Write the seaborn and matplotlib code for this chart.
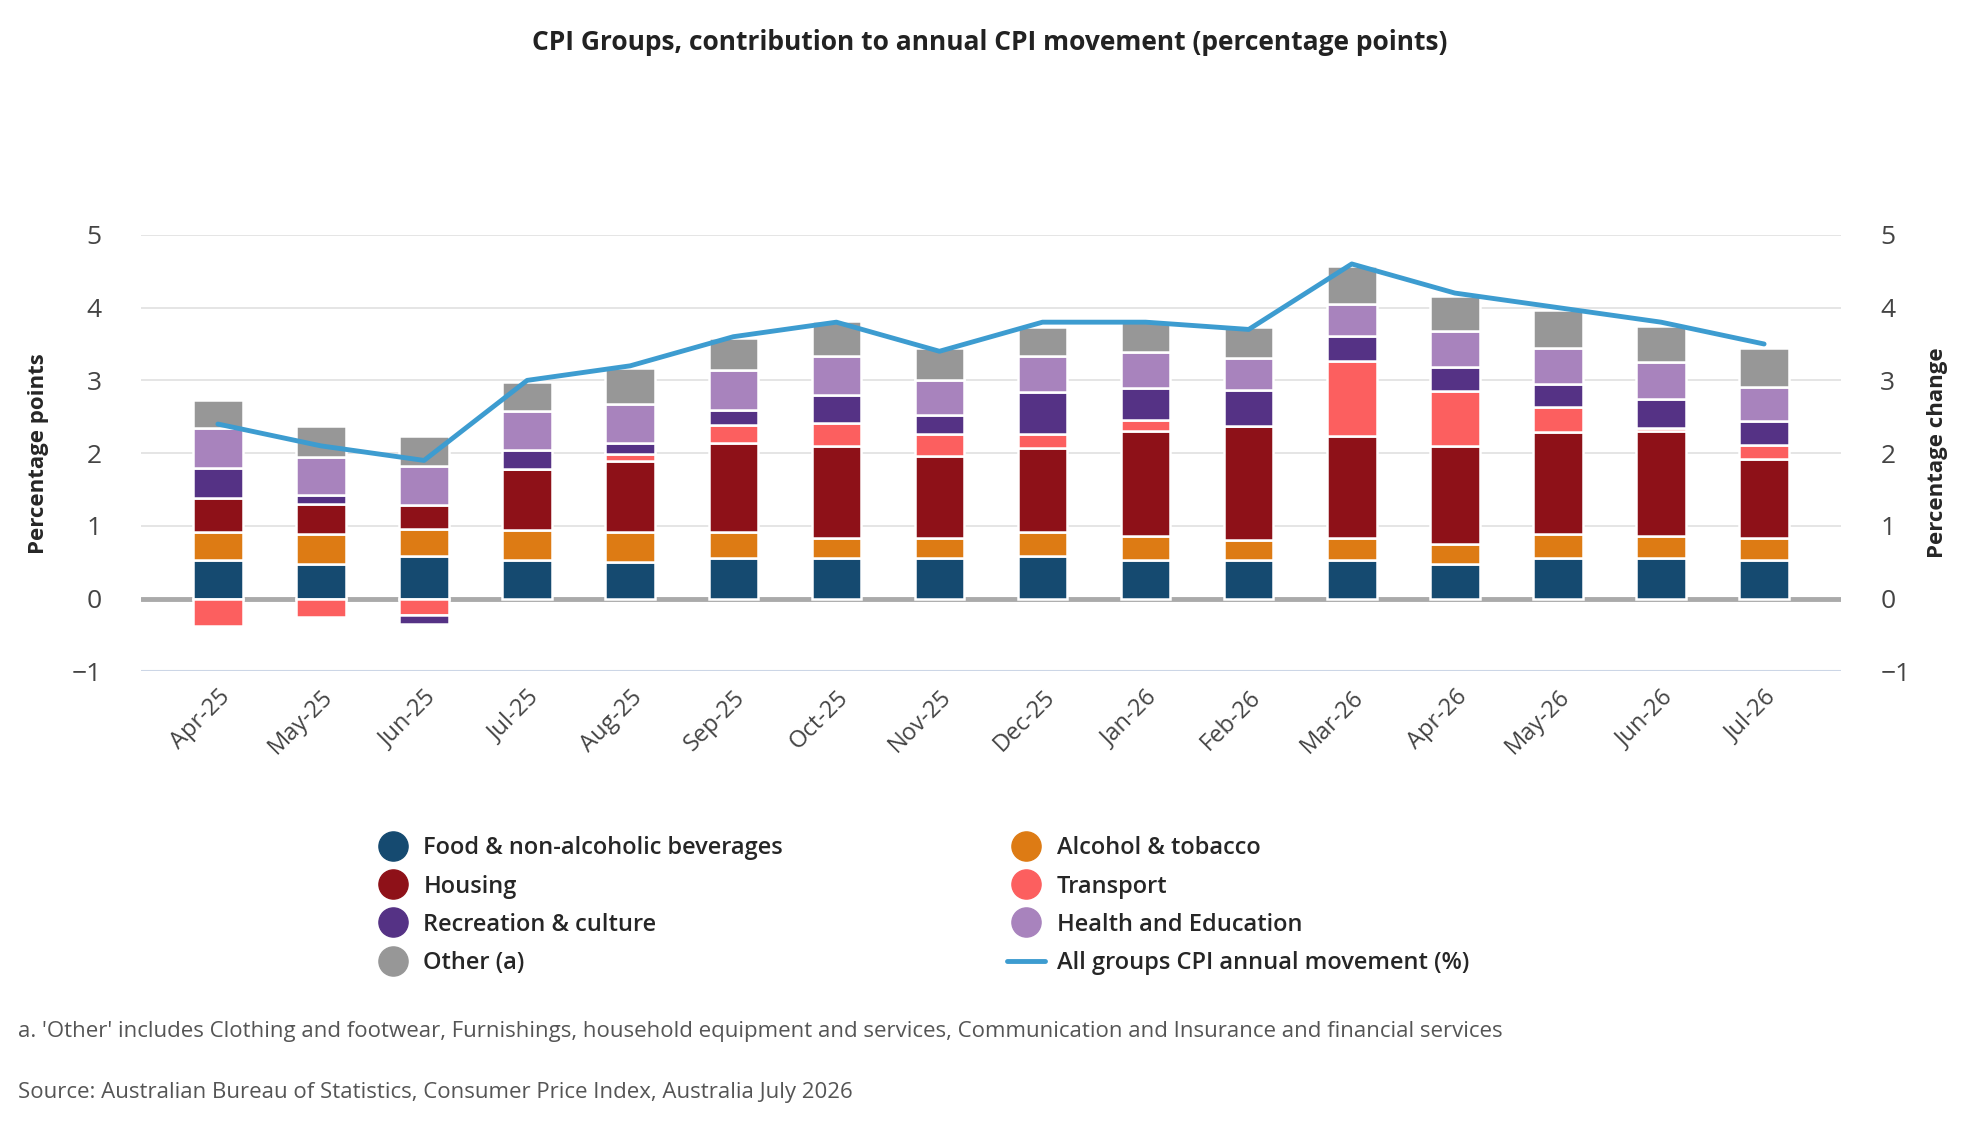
import numpy as np
import pandas as pd
import seaborn as sns
import matplotlib.pyplot as plt
from matplotlib.lines import Line2D

# ---------------------------------------------------------
# DATA (percentage point contributions)
# ---------------------------------------------------------
months = ["Apr-25", "May-25", "Jun-25", "Jul-25", "Aug-25", "Sep-25", "Oct-25", "Nov-25",
          "Dec-25", "Jan-26", "Feb-26", "Mar-26", "Apr-26", "May-26", "Jun-26", "Jul-26"]
food = [0.53, 0.47, 0.58, 0.53, 0.50, 0.56, 0.56, 0.56, 0.59, 0.53, 0.53, 0.53, 0.47, 0.56, 0.56, 0.53]
alcohol = [0.38, 0.42, 0.38, 0.42, 0.42, 0.36, 0.27, 0.27, 0.33, 0.33, 0.27, 0.30, 0.28, 0.33, 0.30, 0.30]
housing = [0.47, 0.41, 0.33, 0.83, 0.97, 1.22, 1.27, 1.13, 1.15, 1.45, 1.57, 1.40, 1.35, 1.40, 1.45, 1.09]
transport = [-0.37, -0.25, -0.22, 0.00, 0.10, 0.24, 0.31, 0.31, 0.19, 0.14, 0.00, 1.03, 0.75, 0.35, 0.04, 0.19]
recreation = [0.42, 0.13, -0.13, 0.27, 0.15, 0.21, 0.39, 0.25, 0.58, 0.45, 0.50, 0.35, 0.33, 0.31, 0.40, 0.33]
health_edu = [0.55, 0.52, 0.53, 0.53, 0.53, 0.55, 0.53, 0.49, 0.49, 0.49, 0.44, 0.44, 0.50, 0.50, 0.50, 0.47]
other = [0.38, 0.42, 0.42, 0.40, 0.50, 0.44, 0.49, 0.43, 0.40, 0.42, 0.43, 0.52, 0.48, 0.52, 0.50, 0.53]
all_groups = [2.4, 2.1, 1.9, 3.0, 3.2, 3.6, 3.8, 3.4, 3.8, 3.8, 3.7, 4.6, 4.2, 4.0, 3.8, 3.5]

series = [
    ("Food & non-alcoholic beverages", food, "#154a70"),
    ("Alcohol & tobacco", alcohol, "#dd7b14"),
    ("Housing", housing, "#8e1118"),
    ("Transport", transport, "#fc5f5f"),
    ("Recreation & culture", recreation, "#553285"),
    ("Health and Education", health_edu, "#a883bd"),
    ("Other (a)", other, "#979797"),
]
line_color = "#3d9cd0"

sns.set_theme(style="white")
plt.rcParams['font.family'] = ['Open Sans', 'DejaVu Sans']

fig = plt.figure(figsize=(19.8, 11.4), dpi=100)
ax = fig.add_axes([0.071, 0.411, 0.859, 0.383])
x = np.arange(len(months))

# stacked bars, positives up and negatives down
pos_base = np.zeros(len(months))
neg_base = np.zeros(len(months))
for name, vals, col in series:
    v = np.array(vals)
    bottom = np.where(v >= 0, pos_base, neg_base)
    ax.bar(x, v, bottom=bottom, width=0.48, color=col, edgecolor="white", linewidth=1.8, zorder=3)
    pos_base += np.where(v >= 0, v, 0)
    neg_base += np.where(v < 0, v, 0)

ax.set_ylim(-1, 5)
ax.set_xlim(-0.75, len(months) - 0.25)
ax.set_yticks(range(-1, 6))
ax.yaxis.grid(True, color="#e3e3e3", linewidth=1.3, zorder=0)
ax.axhline(0, color="#aaaaaa", linewidth=3.5, zorder=2)
ax.axhline(-1, color="#ccd6e6", linewidth=1.5, zorder=2)
for s in ax.spines.values():
    s.set_visible(False)
ax.set_xticks(x)
ax.set_xticklabels(months, rotation=45, ha="right", rotation_mode="anchor", fontsize=17, color="#444444")
ax.tick_params(axis="y", labelsize=19, labelcolor="#444444", length=0, pad=28)
ax.tick_params(axis="x", length=0, pad=10)
ax.set_ylabel("Percentage points", fontsize=16, fontweight="bold", labelpad=16)

ax2 = ax.twinx()
line_df = pd.DataFrame({"x": x, "y": all_groups})
sns.lineplot(data=line_df, x="x", y="y", ax=ax2, color=line_color, linewidth=3.5, zorder=5)
ax2.set_ylim(-1, 5)
ax2.set_yticks(range(-1, 6))
for s in ax2.spines.values():
    s.set_visible(False)
ax2.tick_params(axis="y", labelsize=19, labelcolor="#444444", length=0, pad=28)
ax2.set_ylabel("Percentage change", fontsize=16, fontweight="bold", labelpad=12)
ax2.set_xlabel("")

fig.suptitle("CPI Groups, contribution to annual CPI movement (percentage points)",
             fontsize=19, fontweight="bold", y=0.975, color="#222222")

# legend (column-first order so rows read like reference)
handles = {name: Line2D([], [], marker="o", linestyle="", markersize=21, color=col)
           for name, _, col in series}
handles["All groups CPI annual movement (%)"] = Line2D([], [], color=line_color, linewidth=3.5)
order = ["Food & non-alcoholic beverages", "Housing", "Recreation & culture", "Other (a)",
         "Alcohol & tobacco", "Transport", "Health and Education", "All groups CPI annual movement (%)"]
leg = fig.legend([handles[k] for k in order], order, loc="upper left", bbox_to_anchor=(0.178, 0.285),
                 ncol=2, frameon=False, fontsize=17, columnspacing=9.5, handletextpad=0.5,
                 labelspacing=0.6, handlelength=1.6)
for t in leg.get_texts():
    t.set_fontweight("semibold")

fig.text(0.009, 0.09, "a. 'Other' includes Clothing and footwear, Furnishings, household equipment and services, "
         "Communication and Insurance and financial services", fontsize=16, color="#555555")
fig.text(0.009, 0.037, "Source: Australian Bureau of Statistics, Consumer Price Index, Australia July 2026",
         fontsize=16, color="#555555")

fig.savefig("out.png", dpi=100)
